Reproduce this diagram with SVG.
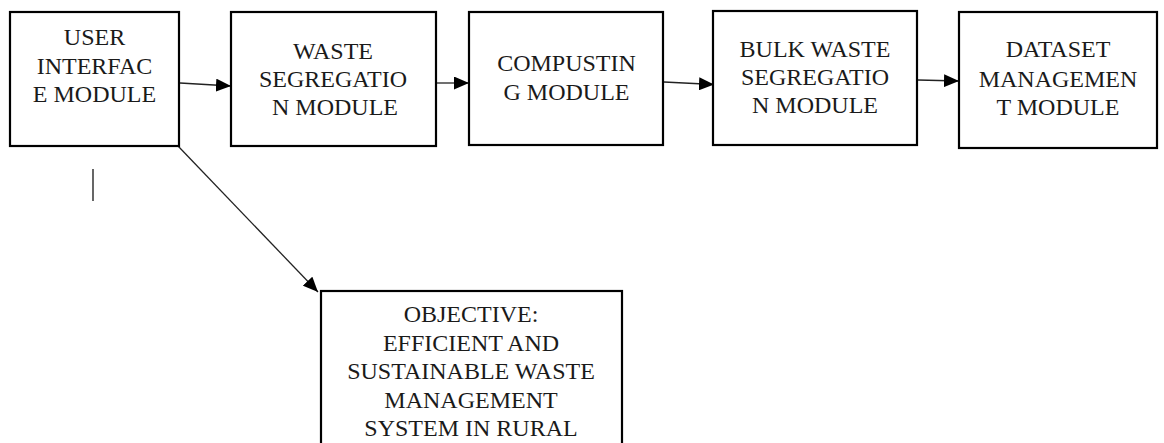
<svg xmlns="http://www.w3.org/2000/svg" width="1164" height="443" viewBox="0 0 1164 443">
<style>
.box{fill:#fff;stroke:#000;stroke-width:2.2}
.t{font-size:24px;fill:#1a1a1a;text-anchor:middle}
.c{fill:none;stroke:#222;stroke-width:1.3}
</style>
<defs>
<marker id="ah" viewBox="0 0 15 13" refX="15" refY="6.5" markerWidth="15" markerHeight="13" markerUnits="userSpaceOnUse" orient="auto">
<path d="M0,0 L15,6.5 L0,13 Z" fill="#000"/>
</marker>
</defs>
<rect width="1164" height="443" fill="#fff"/>
<g id="connectors">
<line class="c" x1="180" y1="83" x2="231" y2="86" marker-end="url(#ah)"/>
<line class="c" x1="437" y1="83" x2="469" y2="83" marker-end="url(#ah)"/>
<line class="c" x1="664" y1="82" x2="714" y2="84.5" marker-end="url(#ah)"/>
<line class="c" x1="918" y1="80" x2="959" y2="81" marker-end="url(#ah)"/>
<line class="c" x1="178" y1="146" x2="318" y2="292" marker-end="url(#ah)"/>
</g>
<g font-family="'Liberation Serif', 'Times New Roman', Times, serif">
<g id="user-interface">
<rect class="box" x="10" y="12" width="169" height="134"/>
<text class="t" x="94.5" y="45">USER</text>
<text class="t" x="94.5" y="73.5">INTERFAC</text>
<text class="t" x="94.5" y="102">E MODULE</text>
</g>
<g id="waste-segregation">
<rect class="box" x="231" y="12" width="205" height="134"/>
<text class="t" x="333" y="59">WASTE</text>
<text class="t" x="333" y="87">SEGREGATIO</text>
<text class="t" x="335" y="115">N MODULE</text>
</g>
<g id="compusting">
<rect class="box" x="469" y="12" width="194" height="133"/>
<text class="t" x="566.5" y="70.5">COMPUSTIN</text>
<text class="t" x="566.5" y="100">G MODULE</text>
</g>
<g id="bulk-waste">
<rect class="box" x="713" y="11" width="204" height="134"/>
<text class="t" x="815" y="57">BULK WASTE</text>
<text class="t" x="815" y="85">SEGREGATIO</text>
<text class="t" x="815" y="113">N MODULE</text>
</g>
<g id="dataset">
<rect class="box" x="959" y="12" width="198" height="136"/>
<text class="t" x="1058" y="57">DATASET</text>
<text class="t" x="1058" y="87">MANAGEMEN</text>
<text class="t" x="1058" y="115">T MODULE</text>
</g>
<g id="objective">
<rect class="box" x="321" y="291" width="301" height="170"/>
<text class="t" x="471" y="322">OBJECTIVE:</text>
<text class="t" x="471" y="351">EFFICIENT AND</text>
<text class="t" x="471" y="379">SUSTAINABLE WASTE</text>
<text class="t" x="471" y="408">MANAGEMENT</text>
<text class="t" x="471" y="436">SYSTEM IN RURAL</text>
</g>
</g>
<line x1="93" y1="169" x2="93" y2="201" stroke="#000" stroke-width="1.2"/>
</svg>
